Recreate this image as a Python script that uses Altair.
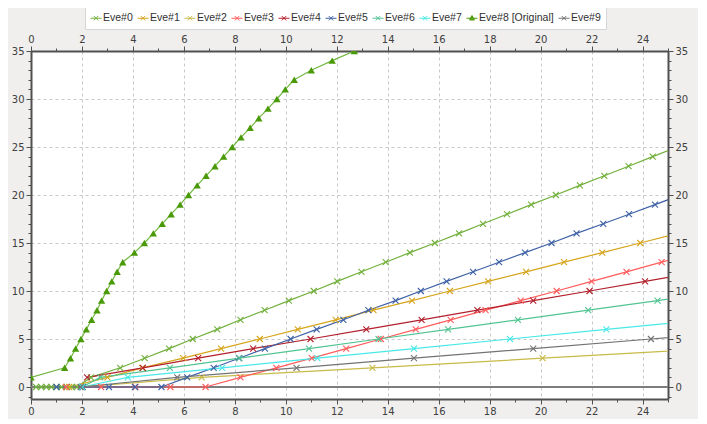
import altair as alt
import pandas as pd

series_names = ["Eve#0", "Eve#1", "Eve#2", "Eve#3", "Eve#4", "Eve#5",
                "Eve#6", "Eve#7", "Eve#8 [Original]", "Eve#9"]
line_colors = ["#72b03c", "#d6a51c", "#c8bb48", "#ff5c5c", "#b3202c",
               "#3f62a6", "#52c492", "#48e8e8", "#74b844", "#737373"]
legend_colors = ["#72b03c", "#d6a51c", "#c8bb48", "#ff5c5c", "#b3202c",
                 "#3f62a6", "#52c492", "#48e8e8", "#4a9a08", "#737373"]

eve0_x = [0.2, 0.4, 0.6, 0.8, 1.0, 1.2, 1.4, 1.6, 1.8, 2.35, 3.5, 4.46, 5.42, 6.35,
          7.31, 8.22, 9.17, 10.12, 11.1, 12.02, 12.97, 13.92, 14.87, 15.85, 16.8,
          17.74, 18.68, 19.63, 20.6, 21.54, 22.5, 23.45, 24.4, 25.35]
eve0_y = [0, 0, 0, 0, 0, 0, 0, 0, 0, 1, 2, 3, 4, 5, 6, 7, 8, 9, 10, 11, 12, 13, 14,
          15, 16, 17, 18, 19, 20, 21, 22, 23, 24, 25]

eve1_x = [1.5, 3.0, 4.37, 5.97, 7.46, 8.98, 10.47, 11.96, 13.44, 14.95, 16.44,
          17.94, 19.43, 20.92, 22.42, 23.91, 25.4]
eve1_y = [0, 1, 2, 3, 4, 5, 6, 7, 8, 9, 10, 11, 12, 13, 14, 15, 16]

eve2_x = [2.0, 6.7, 13.4, 20.08, 26.8]
eve2_y = [0, 1, 2, 3, 4]

eve3_x = [1.37, 2.75, 4.1, 5.47, 6.85, 8.22, 9.63, 11.02, 12.37, 13.73, 15.1,
          16.47, 17.84, 19.22, 20.63, 22.0, 23.37, 24.75, 26.1]
eve3_y = [0, 0, 0, 0, 0, 1, 2, 3, 4, 5, 6, 7, 8, 9, 10, 11, 12, 13, 14]

eve4_x = [2.2, 4.39, 6.56, 8.72, 10.97, 13.16, 15.33, 17.52, 19.71, 21.92, 24.1, 26.3]
eve4_y = [1, 2, 3, 4, 5, 6, 7, 8, 9, 10, 11, 12]

eve5_x = [1.0, 2.03, 3.06, 4.08, 5.12, 6.13, 7.17, 8.16, 9.18, 10.19, 11.21, 12.26,
          13.24, 14.31, 15.3, 16.31, 17.35, 18.37, 19.39, 20.43, 21.41, 22.46,
          23.47, 24.49, 25.5]
eve5_y = [0, 0, 0, 0, 0, 1, 2, 3, 4, 5, 6, 7, 8, 9, 10, 11, 12, 13, 14, 15, 16,
          17, 18, 19, 20]

eve6_x = [2.0, 2.72, 5.45, 8.18, 10.91, 13.64, 16.37, 19.11, 21.87, 24.59, 27.3]
eve6_y = [0, 1, 2, 3, 4, 5, 6, 7, 8, 9, 10]

eve7_x = [2.0, 3.8, 7.5, 11.24, 15.03, 18.8, 22.58, 26.4]
eve7_y = [0, 1, 2, 3, 4, 5, 6, 7]

eve8_x = [0.0, 1.32, 1.55, 1.75, 1.96, 2.17, 2.38, 2.59, 2.77, 2.97, 3.17, 3.38,
          3.6, 4.06, 4.45, 4.8, 5.15, 5.5, 5.85, 6.18, 6.52, 6.87, 7.22, 7.56,
          7.9, 8.24, 8.6, 8.94, 9.3, 9.65, 9.98, 10.33, 11.0, 11.82, 12.69]
eve8_y = list(range(1, 36))

eve9_x = [1.95, 5.74, 10.42, 15.03, 19.71, 24.33, 29.0]
eve9_y = [0, 1, 2, 3, 4, 5, 6]

all_x = [eve0_x, eve1_x, eve2_x, eve3_x, eve4_x, eve5_x, eve6_x, eve7_x, eve8_x, eve9_x]
all_y = [eve0_y, eve1_y, eve2_y, eve3_y, eve4_y, eve5_y, eve6_y, eve7_y, eve8_y, eve9_y]

rows = []
for name, xs, ys in zip(series_names, all_x, all_y):
    for i, (xv, yv) in enumerate(zip(xs, ys)):
        rows.append({"series": name, "x": xv, "y": yv, "i": i})
df = pd.DataFrame(rows)

x_ticks = list(range(0, 26))
y_ticks = list(range(-1, 36))

X_PATH = "M-1,-1L1,1M-1,1L1,-1"
LEG_X = "M-1,0L1,0M-0.4,-0.4L0.4,0.4M-0.4,0.4L0.4,-0.4"
LEG_TRI = "M-1,0L1,0M0,-0.5L0.45,0.32L-0.45,0.32L0,-0.5M0,-0.3L0.25,0.2L-0.25,0.2Z"
legend_shapes = [LEG_X] * 8 + [LEG_TRI, LEG_X]

xscale = alt.Scale(domain=[0, 25], nice=False, zero=False)
yscale = alt.Scale(domain=[-1.25, 35], nice=False, zero=False)
sscale = alt.Scale(domain=series_names, range=line_colors)

axis_common = dict(
    title=None, labelFont="DejaVu Sans", labelFontSize=10, labelColor="#404040",
    domainColor="#505050", domainWidth=2, tickColor="#505050", tickWidth=1,
    labelOverlap=False, labelBound=False, labelFlush=False,
)

def x_axis(orient, grid):
    return alt.Axis(
        orient=orient, values=x_ticks,
        labelExpr="datum.value % 2 === 0 ? datum.label : ''",
        tickSize={"condition": {"test": "datum.value % 2 === 0", "value": 5}, "value": 3},
        grid=grid, gridDash=[3, 3], gridColor="#c8c8c8",
        gridOpacity={"condition": {"test": "datum.value % 2 === 0 && datum.value > 0", "value": 1}, "value": 0},
        labelPadding=2, **axis_common)

def y_axis(orient, grid):
    return alt.Axis(
        orient=orient, values=y_ticks,
        labelExpr="datum.value % 5 === 0 ? datum.label : ''",
        tickSize={"condition": {"test": "datum.value % 5 === 0", "value": 5}, "value": 3},
        grid=grid, gridDash=[3, 3], gridColor="#c8c8c8",
        gridOpacity={"condition": {"test": "datum.value % 5 === 0 && datum.value > 0", "value": 1}, "value": 0},
        labelPadding=2, **axis_common)

base = alt.Chart(df)

zero_line = alt.Chart(pd.DataFrame({"y": [0]})).mark_rule(
    color="#7d7d7d", strokeWidth=2).encode(
    y=alt.Y("y:Q", scale=yscale, axis=None))

lines = base.mark_line(strokeWidth=1.2, clip=True).encode(
    x=alt.X("x:Q", scale=xscale, axis=x_axis("bottom", True)),
    y=alt.Y("y:Q", scale=yscale, axis=y_axis("left", True)),
    stroke=alt.Stroke("series:N", scale=sscale, legend=None),
    order=alt.Order("i:Q"),
)

crosses = base.transform_filter(
    alt.datum.series != "Eve#8 [Original]").mark_point(
    shape=X_PATH, filled=False, size=36, strokeWidth=1.1, opacity=1, clip=True).encode(
    x=alt.X("x:Q", scale=xscale, axis=x_axis("top", False)),
    y=alt.Y("y:Q", scale=yscale, axis=y_axis("right", False)),
    stroke=alt.Stroke("series:N", scale=sscale, legend=None),
)

tris = base.transform_filter(
    alt.datum.series == "Eve#8 [Original]").mark_point(
    shape="triangle-up", filled=True, size=55, opacity=1, color="#4a9a08", clip=True).encode(
    x=alt.X("x:Q", scale=xscale, axis=None),
    y=alt.Y("y:Q", scale=yscale, axis=None),
)

leg_df = pd.DataFrame({"series": series_names, "x": [-50] * 10, "y": [-50] * 10})

legend_layer = alt.Chart(leg_df).mark_point(
    filled=False, opacity=1, size=121, strokeWidth=1, clip=True).encode(
    x=alt.X("x:Q", scale=xscale, axis=None),
    y=alt.Y("y:Q", scale=yscale, axis=None),
    color=alt.Color("series:N", scale=alt.Scale(domain=series_names, range=legend_colors),
                    legend=alt.Legend(title=None)),
    shape=alt.Shape("series:N", scale=alt.Scale(domain=series_names, range=legend_shapes),
                    legend=alt.Legend(title=None)),
)

chart = alt.layer(legend_layer, zero_line, lines, crosses, tris).resolve_axis(
    x="independent", y="independent").properties(
    width=637, height=348, autosize="none",
    padding={"left": 23, "top": 43, "right": 30, "bottom": 20},
    background="#f0efee",
).configure_view(fill="#ffffff", stroke=None).configure_legend(
    orient="none", legendX=54, legendY=-44, direction="horizontal",
    columns=10, symbolSize=121, symbolStrokeWidth=1, labelFont="Liberation Sans",
    labelFontSize=10.5, labelColor="#303030", fillColor="#ffffff",
    strokeColor="#d6d6d6", padding=5, columnPadding=2, labelOffset=1,
)

chart.save("out.html", embed_options={"renderer": "svg", "actions": False})
